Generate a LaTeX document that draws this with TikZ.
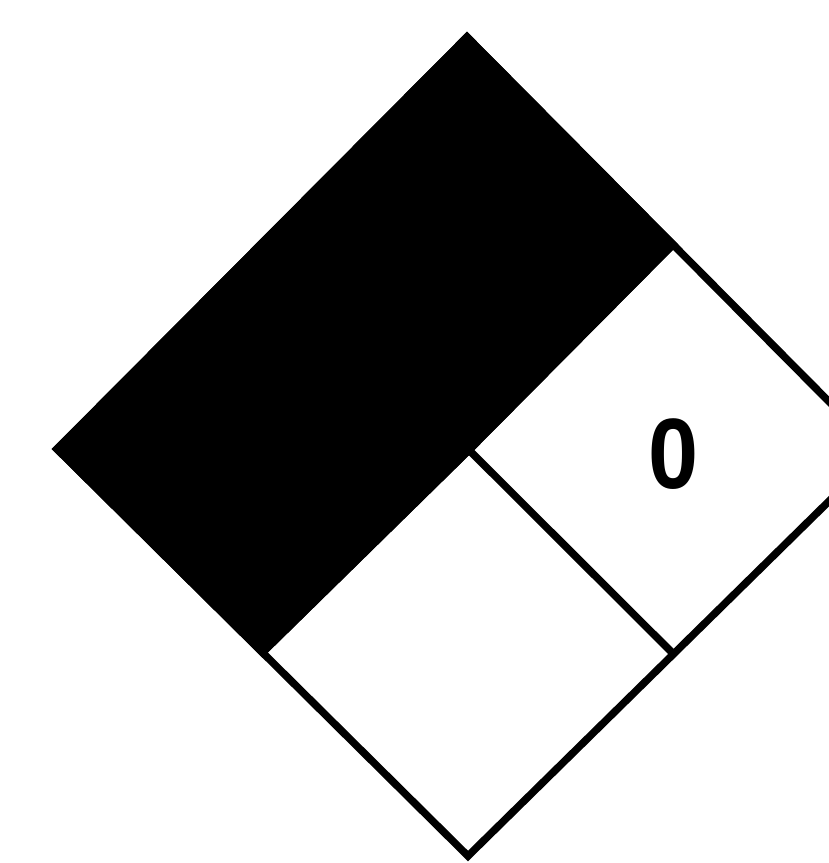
\documentclass[tikz,border=0pt]{standalone}
\usepackage{fontspec}
\setmainfont{Liberation Sans}
\usetikzlibrary{calc}
\begin{document}
\begin{tikzpicture}[x=1pt,y=-1pt,
  edge/.style={line width=7.5pt,line join=miter,draw=black},
  rating/.style={font=\fontsize{100}{100}\selectfont\bfseries,inner sep=0pt}]
\useasboundingbox (0,0) rectangle (829,863);
\clip (0,0) rectangle (829,863);
\fill[white] (0,0) rectangle (829,863);
\coordinate (T) at (467,37);
\coordinate (L) at (57,449);
\coordinate (B) at (468,856);
\coordinate (R) at (879,452);
\coordinate (C) at (469,450);
\coordinate (TR) at ($(T)!0.5!(R)$);
\coordinate (BR) at ($(B)!0.5!(R)$);
\coordinate (BL) at ($(B)!0.5!(L)$);
% black region: top and left sub-diamonds
\filldraw[edge,fill=black] (T) -- (TR) -- (C) -- (BL) -- (L) -- cycle;
% outer outline
\draw[edge] (T) -- (R) -- (B) -- (L) -- cycle;
% inner dividers
\draw[edge] (TR) -- (C) -- (BR);
\draw[edge] (BL) -- (C);
\node[rating,xscale=0.9] (flam) at (674,454) {0};
\end{tikzpicture}
\end{document}
